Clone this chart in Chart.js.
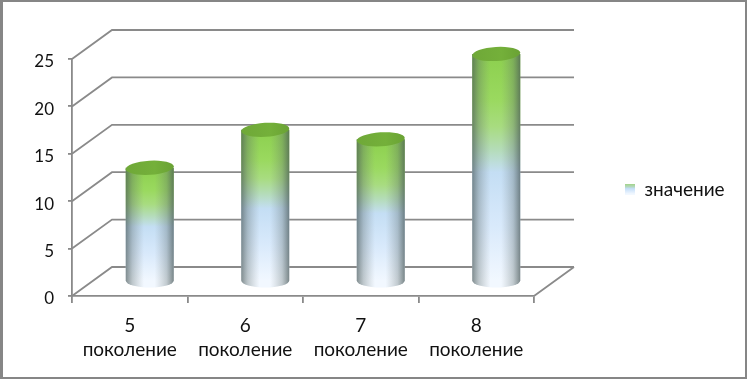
<!DOCTYPE html>
<html lang="ru">
<head>
<meta charset="utf-8">
<style>
  html, body { margin: 0; background: #fff; }
  #wrap { position: relative; width: 748px; height: 380px; overflow: hidden; }
  #frame { position: absolute; left: 0; top: 0; width: 747px; height: 379px; box-sizing: border-box; border: 2px solid #868686; border-left-width: 3px; pointer-events: none; }
</style>
</head>
<body>
<div id="wrap">
  <canvas id="chart" width="748" height="380"></canvas>
  <div id="frame"></div>
</div>
<script src="https://cdn.jsdelivr.net/npm/chart.js@4/dist/chart.umd.min.js"></script>
<script>
const categories = [["5", "поколение"], ["6", "поколение"], ["7", "поколение"], ["8", "поколение"]];
const values = [12, 16, 15, 24];
const seriesName = "значение";
const yTicks = [0, 5, 10, 15, 20, 25];

const DEPTH_X = 20, DEPTH_Y = 14.5, RY = 7;
const LINE = "#8a8a8a";
const LINE_W = 1.8;
const TEXT = "#111";

function barFill(c) {
  const y = c.chart.scales.y;
  if (!y || c.raw === undefined) return "#a6dc78";
  const g = c.chart.ctx.createLinearGradient(0, y.getPixelForValue(c.raw), 0, y.getPixelForValue(0));
  g.addColorStop(0, "#8ccf4e");
  g.addColorStop(0.2, "#9ad95f");
  g.addColorStop(0.32, "#a8dc80");
  g.addColorStop(0.42, "#b4dcb8");
  g.addColorStop(0.52, "#c4def4");
  g.addColorStop(0.75, "#d8e9fb");
  g.addColorStop(1, "#f2f8ff");
  return g;
}

// 3D walls and floor behind the bars, taken from the value scale
const walls = {
  id: "walls",
  beforeLayout(chart) {
    const legend = chart.legend;
    if (legend.fitDone) return;
    const fit = legend.fit;
    legend.fit = function () { fit.call(this); this.width = 214; };
    legend.fitDone = true;
  },
  afterLayout(chart) {
    chart.legend.left = 615;
    chart.legend.top = 170;
  },
  beforeDatasetsDraw(chart) {
    const { ctx, chartArea: a, scales: { y } } = chart;
    ctx.save();
    ctx.strokeStyle = LINE;
    ctx.lineWidth = LINE_W;
    ctx.beginPath();
    yTicks.forEach((t) => {
      const py = y.getPixelForValue(t);
      ctx.moveTo(a.left, py);
      ctx.lineTo(a.left + DEPTH_X * 2, py - DEPTH_Y * 2);
      ctx.lineTo(a.right + DEPTH_X * 2, py - DEPTH_Y * 2);
    });
    ctx.moveTo(a.right, a.bottom);
    ctx.lineTo(a.right + DEPTH_X * 2, a.bottom - DEPTH_Y * 2);
    ctx.stroke();
    ctx.restore();
  },
  // bars sit halfway into the depth of the floor
  beforeDatasetDraw(chart) {
    const { ctx } = chart;
    const meta = chart.getDatasetMeta(0);
    ctx.save();
    ctx.translate(DEPTH_X, -DEPTH_Y);
    meta.data.forEach((el) => {
      ctx.fillStyle = "#f2f8ff";
      ctx.beginPath();
      ctx.ellipse(el.x, el.base, el.width / 2, RY, 0, 0, Math.PI * 2);
      ctx.fill();
    });
  },
  afterDatasetDraw(chart) {
    const { ctx } = chart;
    const meta = chart.getDatasetMeta(0);
    meta.data.forEach((el) => {
      const l = el.x - el.width / 2, r = el.x + el.width / 2;
      const side = ctx.createLinearGradient(l, 0, r, 0);
      side.addColorStop(0, "rgba(70,85,85,.66)");
      side.addColorStop(0.14, "rgba(90,105,105,.34)");
      side.addColorStop(0.38, "rgba(120,130,130,0)");
      side.addColorStop(0.6, "rgba(120,130,130,0)");
      side.addColorStop(0.85, "rgba(90,105,105,.32)");
      side.addColorStop(1, "rgba(70,85,85,.7)");
      ctx.fillStyle = side;
      ctx.beginPath();
      ctx.moveTo(l, el.y);
      ctx.lineTo(r, el.y);
      ctx.lineTo(r, el.base);
      ctx.ellipse(el.x, el.base, el.width / 2, RY, 0, 0, Math.PI);
      ctx.closePath();
      ctx.fill();

      const cap = ctx.createLinearGradient(l, 0, r, 0);
      cap.addColorStop(0, "#6fa838");
      cap.addColorStop(0.6, "#74b03a");
      cap.addColorStop(1, "#6aa234");
      ctx.fillStyle = cap;
      ctx.beginPath();
      ctx.ellipse(el.x, el.y, el.width / 2, RY, -0.06, 0, Math.PI * 2);
      ctx.fill();
    });
    ctx.restore();
  },
};

new Chart(document.querySelector("#chart"), {
  type: "bar",
  data: {
    labels: categories,
    datasets: [{
      label: seriesName,
      data: values,
      backgroundColor: barFill,
      borderWidth: 0,
      barPercentage: 0.416,
      categoryPercentage: 1,
      clip: false,
    }],
  },
  plugins: [walls],
  options: {
    responsive: false,
    animation: false,
    layout: { padding: { top: 59, left: 0, right: 0, bottom: 0 } },
    plugins: {
      tooltip: { enabled: false },
      legend: {
        position: "right",
        align: "start",
        labels: {
          color: TEXT,
          font: { family: "Lato", size: 19 },
          boxWidth: 10,
          boxHeight: 11,
          padding: 10,
          generateLabels(chart) {
            const g = chart.ctx.createLinearGradient(0, 182, 0, 194);
            g.addColorStop(0, "#96d060");
            g.addColorStop(0.4, "#b4d8c0");
            g.addColorStop(0.55, "#c4def8");
            g.addColorStop(1, "#f2f8ff");
            return [{ text: seriesName, fillStyle: g, strokeStyle: "transparent", lineWidth: 0, fontColor: TEXT, datasetIndex: 0 }];
          },
        },
      },
    },
    scales: {
      x: {
        afterFit(scale) { scale.height = 84; },
        border: { color: LINE, width: LINE_W },
        grid: { drawOnChartArea: false, color: LINE, lineWidth: LINE_W, tickLength: 7, offset: true },
        ticks: { color: TEXT, font: { family: "Lato", size: 19, lineHeight: 1.27 }, padding: 11, maxRotation: 0, autoSkip: false },
      },
      y: {
        min: 0,
        max: 25,
        afterFit(scale) { scale.width = 72; },
        afterBuildTicks(scale) { scale.ticks = yTicks.map((value) => ({ value })); },
        border: { color: LINE, width: LINE_W },
        grid: { drawOnChartArea: false, color: LINE, lineWidth: LINE_W, tickLength: 4 },
        ticks: { color: TEXT, font: { family: "Lato", size: 17 }, padding: 14, labelOffset: 3 },
      },
    },
  },
});
</script>
</body>
</html>
